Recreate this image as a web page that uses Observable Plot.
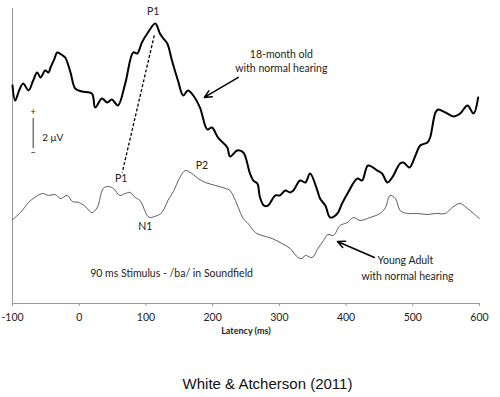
<!DOCTYPE html>
<html>
<head>
<meta charset="utf-8">
<script src="https://cdn.jsdelivr.net/npm/d3@7"></script>
<script src="https://cdn.jsdelivr.net/npm/@observablehq/plot@0.6"></script>
<style>
  html, body { margin: 0; padding: 0; background: #fff; }
  #chart svg { display: block; }
  #caption { width: 500px; box-sizing: border-box; padding-left: 35px; padding-top: 9px; text-align: center;
    font-family: "Liberation Sans", Arial, sans-serif; font-size: 15px; line-height: 20px; color: #111; }
</style>
</head>
<body>
<div id="chart"></div>
<div id="caption">White &amp; Atcherson (2011)</div>
<script>
// Latency (ms) and amplitude (µV)
const toddlerMs = [-100,-96,-90,-84,-76,-69,-63,-58,-51,-46,-43,-37,-33,-25,-21,-13,-6,4,19,24,34,42,49,58,69,81,87,94,103,114,121,126,132,139,148,156,163,171,181,192,199,208,222,226,237,246,256,261,267,271,277,283,294,301,309,316,321,331,339,346,357,361,369,376,387,394,403,417,424,433,447,454,462,469,481,486,495,504,511,522,526,534,538,549,561,571,582,591,598];
const toddlerUv = [6.57,5.71,6.29,6.69,6.29,6.86,7.31,7.03,7.43,7.31,7.6,8.11,8.46,8.29,8.17,7.31,6.4,6.23,6.11,5.31,5.83,5.6,5.77,5.43,6.69,8.46,8.4,9.03,9.6,10.11,9.54,9.26,8.97,8.0,6.86,6.0,6.29,6.0,5.31,4.06,4.17,3.6,3.03,2.51,2.86,2.74,1.54,1.14,0.97,0.17,-0.29,-0.29,0.29,0.29,0.57,0.46,0.57,1.14,1.03,1.54,0.57,0.11,-0.29,-0.97,-0.74,-0.17,0.46,1.26,1.14,2.0,1.71,1.54,1.03,1.31,2.11,2.17,1.89,2.57,3.14,3.31,3.6,5.03,5.2,5.03,4.8,4.97,5.43,4.97,5.89];

const adultMs = [-100,-88,-76,-69,-55,-46,-36,-28,-18,-10,-1,9,19,27,36,43,51,61,69,76,84,91,102,106,117,124,133,142,150,159,169,178,189,204,219,226,234,246,253,264,274,289,304,316,328,334,339,349,358,366,373,381,391,402,411,421,436,451,459,466,474,481,492,507,522,534,549,559,571,582,591,600];
const adultUv = [-1.09,-0.69,-0.11,0.11,0.4,0.29,0.34,0.11,0.29,-0.06,-0.11,-0.34,-0.69,-0.4,0.69,0.8,0.69,0.29,0.4,0.46,0.17,0,-0.86,-0.97,-0.86,-0.69,0,0.57,1.26,1.71,1.54,1.26,1.03,0.86,0.69,0.57,0,-1.03,-1.31,-1.83,-2.0,-2.17,-2.46,-2.74,-3.26,-3.31,-3.14,-3.26,-2.74,-2.29,-1.94,-2.0,-1.43,-1.26,-0.97,-1.14,-0.97,-0.74,-0.4,0.29,0.11,-0.57,-0.74,-0.74,-0.8,-0.74,-0.74,-0.4,-0.17,-0.46,-0.74,-1.03];

const xTicks = [-100, 0, 100, 200, 300, 400, 500, 600];
const xTickLabels = ["-100", "0", "100", "200", "300", "400", "500", "600"];
const yDomain = [-5.886, 10.971];

const toddler = toddlerMs.map((x, i) => ({x, y: toddlerUv[i]}));
const adult = adultMs.map((x, i) => ({x, y: adultUv[i]}));

const labels = [
  {x: 111, y: 10.8, text: "P1"},
  {x: 63, y: 1.26, text: "P1"},
  {x: 99, y: -1.49, text: "N1"},
  {x: 184, y: 2.0, text: "P2"}
];

const font = "Lato, 'Open Sans', sans-serif";

const chart = Plot.plot({
  width: 500,
  height: 365,
  marginLeft: 12,
  marginRight: 21,
  marginTop: 8,
  marginBottom: 62,
  style: {fontFamily: font, fontSize: "10px", color: "#222", background: "#fff"},
  x: {domain: [-100, 600]},
  y: {domain: yDomain, axis: null},
  marks: [
    Plot.ruleX([-100], {y1: yDomain[0], y2: yDomain[1], stroke: "#999", strokeWidth: 1}),
    Plot.ruleY([yDomain[0]], {stroke: "#999", strokeWidth: 1}),
    Plot.axisX({ticks: xTicks, tickFormat: (d) => xTickLabels[xTicks.indexOf(d)], tickSize: 3, tickPadding: 7, stroke: "#999", fill: "#222", fontSize: 10.5, label: null}),
    Plot.text(["Latency (ms)"], {x: 250, frameAnchor: "bottom", dy: 30, fontWeight: "bold", fontSize: 9, fill: "#222"}),
    Plot.line(adult, {x: "x", y: "y", stroke: "#333", strokeWidth: 0.8, curve: "catmull-rom"}),
    Plot.line(toddler, {x: "x", y: "y", stroke: "#000", strokeWidth: 2, curve: "catmull-rom", strokeLinejoin: "round"}),
    Plot.link([{x1: 112.5, y1: 9.43, x2: 64.5, y2: 1.6}], {x1: "x1", y1: "y1", x2: "x2", y2: "y2", stroke: "#000", strokeWidth: 1.3, strokeDasharray: "3,2"}),
    Plot.text(labels, {x: "x", y: "y", text: "text", fontSize: 10.5, fill: "#222"}),
    Plot.text(["18-month old\nwith normal hearing"], {x: 303, y: 8.0, fontSize: 10.5, lineHeight: 1.35, fill: "#222"}),
    Plot.arrow([{x1: 238.5, y1: 7.03, x2: 187.5, y2: 5.89}], {x1: "x1", y1: "y1", x2: "x2", y2: "y2", stroke: "#000", strokeWidth: 1.5, headLength: 8, headAngle: 50}),
    Plot.text(["Young Adult"], {x: 489, y: -3.43, fontSize: 10.5, fill: "#222"}),
    Plot.text(["with normal hearing"], {x: 492, y: -4.34, fontSize: 10.5, fill: "#222"}),
    Plot.arrow([{x1: 442.5, y1: -3.26, x2: 387, y2: -2.34}], {x1: "x1", y1: "y1", x2: "x2", y2: "y2", stroke: "#000", strokeWidth: 1.5, headLength: 8, headAngle: 50}),
    Plot.text(["90 ms Stimulus - /ba/ in Soundfield"], {x: 16.5, y: -4.17, textAnchor: "start", fontSize: 10.5, fill: "#222"}),
    Plot.ruleX([-69], {y1: 2.97, y2: 4.69, stroke: "#333", strokeWidth: 1}),
    Plot.text(["+"], {x: -69, y: 5.03, fontSize: 9, fill: "#222"}),
    Plot.text(["\u2212"], {x: -69, y: 2.69, fontSize: 9, fill: "#222"}),
    Plot.text(["2 \u03bcV"], {x: -55.5, y: 3.6, textAnchor: "start", fontSize: 10, fill: "#222"})
  ]
});
document.getElementById("chart").appendChild(chart);
</script>
</body>
</html>
